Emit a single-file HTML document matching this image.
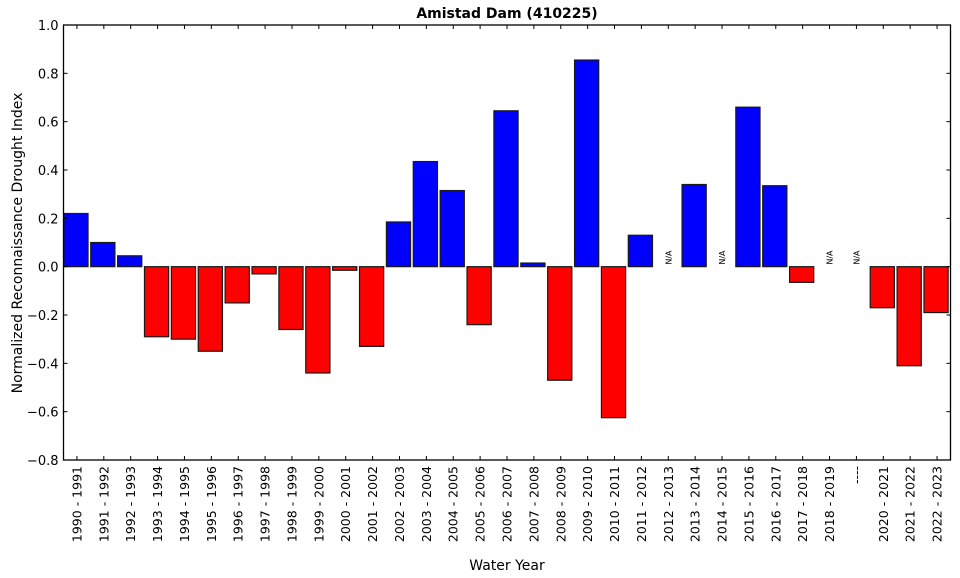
<!DOCTYPE html>
<html><head><meta charset="utf-8"><style>
body{margin:0;background:#fff;}
svg{display:block;font-family:"DejaVu Sans","Liberation Sans",sans-serif;}
</style></head><body>
<svg id="chart" width="960" height="578" viewBox="0 0 960 578" xmlns="http://www.w3.org/2000/svg">
<text x="507" y="18" text-anchor="middle" font-size="14" font-weight="bold">Amistad Dam (410225)</text>
<text transform="translate(22,243) rotate(-90)" text-anchor="middle" font-size="14">Normalized Reconnaissance Drought Index</text>
<text x="507" y="570" text-anchor="middle" font-size="14">Water Year</text>
<g id="bars"></g><g id="axes"></g>
</svg>
<script>
const categories=["1990 - 1991","1991 - 1992","1992 - 1993","1993 - 1994","1994 - 1995","1995 - 1996","1996 - 1997","1997 - 1998","1998 - 1999","1999 - 2000","2000 - 2001","2001 - 2002","2002 - 2003","2003 - 2004","2004 - 2005","2005 - 2006","2006 - 2007","2007 - 2008","2008 - 2009","2009 - 2010","2010 - 2011","2011 - 2012","2012 - 2013","2013 - 2014","2014 - 2015","2015 - 2016","2016 - 2017","2017 - 2018","2018 - 2019","----","2020 - 2021","2021 - 2022","2022 - 2023"];
const values=[0.22,0.10,0.045,-0.29,-0.30,-0.35,-0.15,-0.03,-0.26,-0.44,-0.015,-0.33,0.185,0.435,0.315,-0.24,0.645,0.015,-0.47,0.855,-0.625,0.13,null,0.34,null,0.66,0.335,-0.065,null,null,-0.17,-0.41,-0.19];
const yTicks=[1.0,0.8,0.6,0.4,0.2,0.0,-0.2,-0.4,-0.6,-0.8];
const NS="http://www.w3.org/2000/svg";
const L=63.5,R=950.5,T=25,B=460,yMin=-0.8,yMax=1.0;
const slot=(R-L)/categories.length;
const y=v=>T+(yMax-v)/(yMax-yMin)*(B-T);
const xc=i=>L+(i+0.5)*slot;
function mk(tag,attrs,parent){const e=document.createElementNS(NS,tag);for(const k in attrs)e.setAttribute(k,attrs[k]);parent.appendChild(e);return e;}
const bars=document.getElementById('bars'),axes=document.getElementById('axes');
const bw=slot*0.9;
values.forEach((v,i)=>{
  if(v===null){
    const t=mk('text',{transform:`translate(${xc(i)+3},${y(0)-2}) rotate(-90)`,'font-size':'8'},bars);
    t.textContent='N/A';
    
    
    return;
  }
  const y0=y(0),y1=y(v);
  const r=mk('rect',{x:xc(i)-bw/2-1,y:Math.min(y0,y1),width:bw,height:Math.abs(y1-y0),fill:v>=0?'#0000ff':'#ff0000',stroke:'#1a1a1a','stroke-width':1.2},bars);
  
  
});
const frame=mk('rect',{x:L,y:T,width:R-L,height:B-T,fill:'none',stroke:'#000','stroke-width':1.3},axes);


yTicks.forEach(v=>{
  const yy=y(v);
  mk('line',{x1:L,x2:L+4,y1:yy,y2:yy,stroke:'#000'},axes);
  mk('line',{x1:R-4,x2:R,y1:yy,y2:yy,stroke:'#000'},axes);
  const t=mk('text',{x:L-5,y:yy+5,'text-anchor':'end','font-size':'13'},axes);
  t.textContent=(v<0?'\u2212':'')+Math.abs(v).toFixed(1);
  
  
});
categories.forEach((c,i)=>{
  const x=xc(i);
  mk('line',{x1:x,x2:x,y1:T,y2:T+4,stroke:'#000'},axes);
  mk('line',{x1:x,x2:x,y1:B-4,y2:B,stroke:'#000'},axes);
  const t=mk('text',{transform:`translate(${x+4.5},${B+6}) rotate(-90)`,'text-anchor':'end','font-size':'12.5'},axes);
  t.textContent=c;
  
  
});
</script>
</body></html>
